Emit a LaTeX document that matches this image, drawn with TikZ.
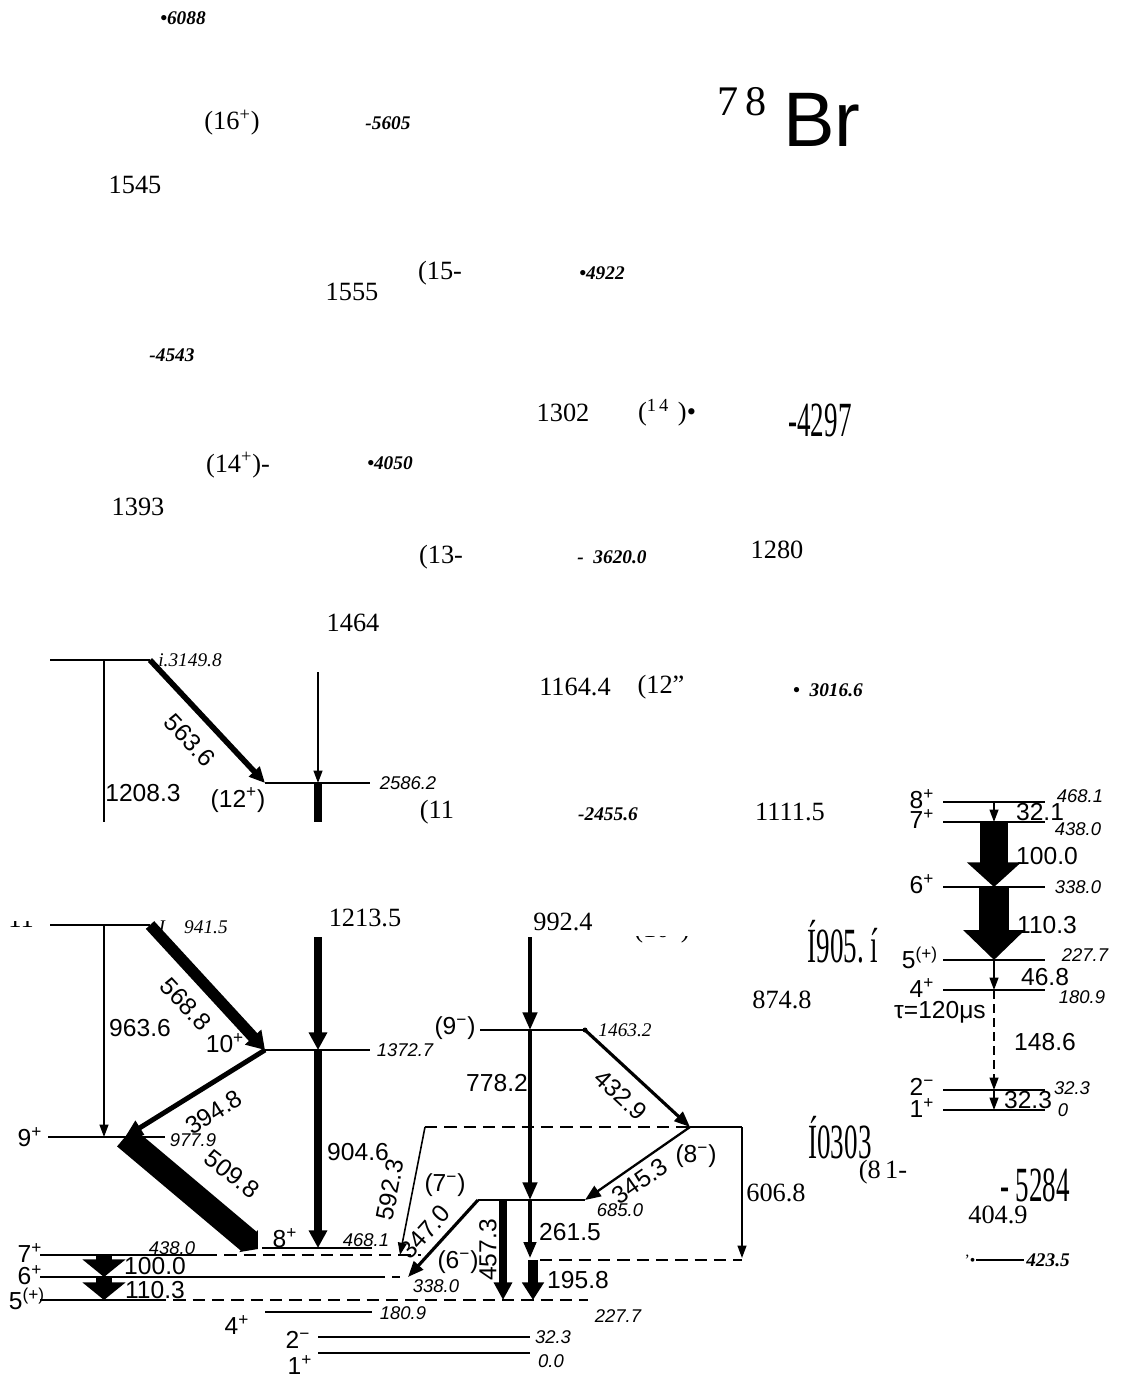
\documentclass[tikz,border=0pt]{standalone}
\usepackage{fontspec}
\setmainfont{Liberation Serif}
\setsansfont{Liberation Sans}
\usetikzlibrary{arrows.meta, positioning}

\begin{document}
\begin{tikzpicture}[x=0.02cm, y=-0.02cm, font=\sffamily,
  lvl/.style={line width=1pt},
  dlvl/.style={line width=1pt, dash pattern=on 7pt off 4pt},
  gthin/.style={line width=0.9pt, -{Triangle[length=7pt,width=5pt]}},
  gmed/.style={line width=1.8pt, -{Triangle[length=9pt,width=7pt]}},
  gfat/.style={line width=4pt, -{Triangle[length=10pt,width=10pt]}},
  glab/.style={font=\sffamily\fontsize{14}{14}\selectfont, inner sep=1pt},
  elab/.style={font=\sffamily\itshape\fontsize{10.5}{10.5}\selectfont, inner sep=1pt},
  slab/.style={font=\sffamily\fontsize{14}{14}\selectfont, inner sep=1pt},
  rlab/.style={font=\rmfamily\itshape\fontsize{11}{11}\selectfont, inner sep=1pt},
  otxt/.style={font=\rmfamily\fontsize{15}{15}\selectfont, inner sep=1pt},
  obi/.style={font=\rmfamily\bfseries\itshape\fontsize{11}{11}\selectfont, inner sep=1pt},
  squash/.style={font=\rmfamily\fontsize{28}{28}\selectfont, inner sep=0pt}]
\useasboundingbox (0,0) rectangle (1131,1379);

% Upper text fragments
\node[obi] (t6088) at (183,18) {\textbullet 6088};
\node[otxt] (t16p) at (232,123) {(16\textsuperscript{+})};
\node[obi] (t5605) at (388,123) {-5605};
\node[font=\rmfamily\fontsize{24}{24}\selectfont] (tmass) at (742,102) {7\,8};
\node[font=\sffamily\fontsize{44}{44}\selectfont] (tbr) at (822,120) {Br};
\node[otxt] (t1545) at (135,185) {1545};
\node[otxt] (t15m) at (440,273) {(15-};
\node[obi] (t4922) at (602,273) {\textbullet 4922};
\node[otxt] (t1555) at (352,292) {1555};
\node[obi] (t4543) at (172,355) {-4543};
\node[otxt] (t1302) at (563,413) {1302};
\node[otxt] (t14a) at (667,413) {(\textsuperscript{1\,4}\,\,)\textbullet};
\node[squash] (t4297) at (820,420) {\scalebox{0.55}[1]{-4297}};
\node[otxt] (t14p) at (238,465) {(14\textsuperscript{+})-};
\node[obi] (t4050) at (390,463) {\textbullet 4050};
\node[otxt] (t1393) at (138,507) {1393};
\node[otxt] (t13m) at (441,557) {(13-};
\node[obi] (t3620) at (612,557) {-\ \ 3620.0};
\node[otxt] (t1280) at (777,550) {1280};
\node[otxt] (t1464) at (353,623) {1464};
\node[otxt] (t1164) at (575,687) {1164.4};
\node[otxt] (t12q) at (661,687) {(12\symbol{34}};
\node[obi] (t3016) at (828,690) {\textbullet\ \ 3016.6};
\node[otxt] (t11o) at (437,812) {(11};
\node[obi] (t2455) at (608,814) {-2455.6};
\node[otxt] (t1111) at (790,812) {1111.5};
\node[otxt] (t1213) at (365,918) {1213.5};
\node[otxt] (t992) at (563,922) {992.4};
\node[squash] (t1905) at (843,942) {\scalebox{0.55}[1]{Í905.\ í}};
\node[otxt] (t874) at (782,1000) {874.8};
\node[squash] (t0303) at (840,1138) {\scalebox{0.55}[1]{Í0303}};
\node[otxt] (t81m) at (883,1172) {(8\,1-};
\node[squash] (t5284) at (1035,1185) {\scalebox{0.55}[1]{-\ 5284}};
\node[otxt] (t606) at (776,1193) {606.8};
\node[otxt] (t404) at (998,1215) {404.9};
\node[obi] (t423) at (1048,1260) {423.5};
\node[font=\rmfamily\fontsize{9}{9}\selectfont, inner sep=0pt] (tdot) at (970,1260) {'\textbullet};
\draw[lvl] (tdot.east) -- (t423.west);
\begin{scope}
  \clip (625,936) rectangle (700,948);
  \node[otxt] (t10f) at (662,930) {(10\textsuperscript{+})};
\end{scope}
\begin{scope}
  \clip (5,921) rectangle (40,931);
  \node[otxt] (t11f) at (21,919) {11};
\end{scope}

% High band (cut at bottom)
\draw[lvl] (50,660) coordinate (a3150) -- (150,660) coordinate (b3150);
\draw[lvl] (265,783) coordinate (a2586) -- (370,783) coordinate (b2586);
\coordinate (m3150) at (104,660);
\coordinate (cut1) at (104,822);
\coordinate (in2586) at (318,672);
\coordinate (m2586) at (318,783);
\coordinate (cut2) at (318,822);
\draw[line width=1.4pt] (m3150) -- (cut1);
\draw[line width=3.2pt, -{Triangle[length=9pt,width=8pt]}] (b3150) -- (a2586);
\draw[gthin] (in2586) -- (m2586);
\draw[line width=4.5pt] (m2586) -- (cut2);
\node[rlab] (e3150) at (190,660) {i.3149.8};
\node[elab] (e2586) at (408,783) {2586.2};
\node[slab] (s12) at (238,800) {(12\textsuperscript{+})};
\node[glab] (g1208) at (143,793) {1208.3};
\node[glab, rotate=-47] (g563) at (190,740) {563.6};

% Positive parity band
\draw[lvl] (50,925) coordinate (a941) -- (150,925) coordinate (b941);
\draw[lvl] (265,1050) coordinate (a1372) -- (370,1050) coordinate (b1372);
\draw[lvl] (48,1137) coordinate (a978) -- (165,1137) coordinate (b978);
\draw[lvl] (262,1248) coordinate (a468) -- (372,1248) coordinate (b468);
\coordinate (m941) at (104,925);
\coordinate (m978) at (104,1137);
\coordinate (t978) at (125,1137);
\coordinate (in1372) at (318,937);
\coordinate (m1372) at (318,1050);
\coordinate (m468) at (318,1248);
\coordinate (t468) at (258,1249);
\draw[gthin] (m941) -- (m978);
\draw[line width=6.5pt, -{Triangle[length=10pt,width=12pt]}] (b941) -- (a1372);
\draw[gfat] (in1372) -- (m1372);
\draw[gfat] (m1372) -- (m468);
\draw[line width=2.8pt, -{Triangle[length=10pt,width=9pt]}] (a1372) -- (t978);
\draw[line width=14pt, -{Triangle[length=7pt,width=16pt]}] (t978) -- (t468);
\node[rlab] (e941) at (192,927) {J\quad 941.5};
\node[elab] (e1372) at (405,1050) {1372.7};
\node[elab] (e978) at (193,1140) {977.9};
\node[elab] (e468) at (366,1240) {468.1};
\node[slab] (s10) at (225,1043) {10\textsuperscript{+}};
\node[slab] (s9) at (30,1137) {9\textsuperscript{+}};
\node[slab] (s8) at (285,1238) {8\textsuperscript{+}};
\node[glab] (g963) at (140,1028) {963.6};
\node[glab, rotate=-47] (g568) at (186,1004) {568.8};
\node[glab, rotate=32] (g394) at (214,1112) {394.8};
\node[glab, rotate=-38] (g509) at (232,1174) {509.8};
\node[glab] (g904) at (358,1152) {904.6};

% Negative parity band
\draw[lvl] (480,1030) coordinate (a1463) -- (585,1030) coordinate (b1463);
\fill (b1463) circle (2.5);
\draw[dlvl] (425,1127) coordinate (a1303) -- (690,1127) coordinate (b1303);
\draw[lvl] (b1303) -- (742,1127) coordinate (c1303);
\draw[lvl] (478,1200) coordinate (a685) -- (585,1200) coordinate (b685);
\draw[dlvl] (540,1260) coordinate (a423) -- (742,1260) coordinate (b423);
\coordinate (in1463) at (530,937);
\coordinate (m1463) at (530,1030);
\coordinate (m685) at (530,1200);
\coordinate (m423) at (530,1258);
\coordinate (n423) at (533,1260);
\coordinate (k685) at (503,1200);
\coordinate (e7p) at (400,1255);
\coordinate (e6p) at (408,1277);
\coordinate (k227) at (503,1300);
\coordinate (n227) at (533,1300);
\coordinate (d423) at (742,1258);
\draw[line width=2.2pt, -{Triangle[length=10pt,width=8pt]}] (in1463) -- (m1463);
\draw[line width=2.2pt, -{Triangle[length=10pt,width=8pt]}] (m1463) -- (m685);
\draw[gmed] (b1463) -- (b1303);
\draw[gthin] (a1303) -- (e7p);
\draw[line width=1.3pt, -{Triangle[length=9pt,width=7pt]}] (b1303) -- (b685);
\draw[gmed] (a685) -- (e6p);
\draw[line width=4.5pt, -{Triangle[length=10pt,width=10pt]}] (k685) -- (k227);
\draw[gmed] (m685) -- (m423);
\draw[line width=5.7pt, -{Triangle[length=10pt,width=12pt]}] (n423) -- (n227);
\draw[gthin] (c1303) -- (d423);
\node[slab] (s9m) at (455,1028) {(9\textsuperscript{−})};
\node[rlab] (e1463) at (625,1030) {1463.2};
\node[slab] (s8m) at (696,1156) {(8\textsuperscript{−})};
\node[slab] (s7m) at (445,1185) {(7\textsuperscript{−})};
\node[elab] (e685) at (620,1210) {685.0};
\node[slab] (s6m) at (458,1262) {(6\textsuperscript{−})};
\node[glab] (g778) at (497,1083) {778.2};
\node[glab, rotate=-43] (g432) at (621,1095) {432.9};
\node[glab, rotate=79] (g592) at (390,1190) {592.3};
\node[glab, rotate=35] (g345) at (640,1181) {345.3};
\node[glab, rotate=48] (g347) at (425,1232) {347.0};
\node[glab, rotate=90] (g457) at (488,1250) {457.3};
\node[glab] (g261) at (570,1232) {261.5};
\node[glab] (g195) at (578,1280) {195.8};

% Low-lying levels
\draw[lvl] (40,1255) coordinate (a438) -- (205,1255);
\draw[dlvl] (205,1255) -- (421,1255);
\draw[lvl] (40,1277) coordinate (a338) -- (373,1277);
\draw[dlvl] (373,1277) -- (400,1277);
\draw[lvl] (40,1300) coordinate (a227) -- (154,1300);
\draw[dlvl] (154,1300) -- (588,1300);
\draw[lvl] (265,1312) coordinate (a181) -- (372,1312);
\draw[lvl] (318,1337) coordinate (a32) -- (530,1337);
\draw[lvl] (318,1353) coordinate (a0) -- (530,1353);
\coordinate (m438) at (104,1255);
\coordinate (m338) at (104,1277);
\coordinate (m227) at (104,1300);
\draw[line width=9pt, -{Triangle[length=10pt,width=24pt]}] (m438) -- (m338);
\draw[line width=9pt, -{Triangle[length=10pt,width=24pt]}] (m338) -- (m227);
\node[slab] (s7) at (30,1253) {7\textsuperscript{+}};
\node[slab] (s6) at (30,1275) {6\textsuperscript{+}};
\node[slab] (s5) at (27,1299) {5\textsuperscript{(+)}};
\node[slab] (s4) at (237,1325) {4\textsuperscript{+}};
\node[slab] (s2) at (298,1340) {2\textsuperscript{−}};
\node[slab] (s1) at (300,1365) {1\textsuperscript{+}};
\node[elab] (e438) at (172,1248) {438.0};
\node[elab] (e338) at (436,1286) {338.0};
\node[elab] (e227) at (618,1316) {227.7};
\node[elab] (e181) at (403,1313) {180.9};
\node[elab] (e32) at (553,1337) {32.3};
\node[elab] (e0) at (551,1361) {0.0};
\node[glab] (g100) at (155,1266) {100.0};
\node[glab] (g110) at (155,1290) {110.3};

% Isomer inset
\foreach \yy/\nm in {802/r468, 822/r438, 887/r338, 960/r227, 990/r181, 1090/r32, 1110/r0}
  \draw[lvl] (943,\yy) -- (1045,\yy) coordinate[pos=0.5] (\nm);
\draw[gthin] (r468) -- (r438);
\draw[line width=16pt, -{Triangle[length=14pt,width=30pt]}] (r438) -- (r338);
\draw[line width=17pt, -{Triangle[length=17pt,width=34pt]}] (r338) -- (r227);
\draw[gthin] (r227) -- (r181);
\draw[gthin, dash pattern=on 5pt off 3pt] (r181) -- (r32);
\draw[gthin] (r32) -- (r0);
\node[slab] (q8) at (922,799) {8\textsuperscript{+}};
\node[slab] (q7) at (922,819) {7\textsuperscript{+}};
\node[slab] (q6) at (922,884) {6\textsuperscript{+}};
\node[slab] (q5) at (920,958) {5\textsuperscript{(+)}};
\node[slab] (q4) at (922,988) {4\textsuperscript{+}};
\node[slab] (q2) at (922,1087) {2\textsuperscript{−}};
\node[slab] (q1) at (922,1108) {1\textsuperscript{+}};
\node[elab] (f468) at (1080,796) {468.1};
\node[elab] (f438) at (1078,829) {438.0};
\node[elab] (f338) at (1078,887) {338.0};
\node[elab] (f227) at (1085,955) {227.7};
\node[elab] (f181) at (1082,997) {180.9};
\node[elab] (f32) at (1072,1088) {32.3};
\node[elab] (f0) at (1063,1110) {0};
\node[glab] (h32a) at (1040,812) {32.1};
\node[glab] (h100) at (1047,856) {100.0};
\node[glab] (h110) at (1047,925) {110.3};
\node[glab] (h46) at (1045,977) {46.8};
\node[glab] (htau) at (940,1012) {τ=120μs};
\node[glab] (h148) at (1045,1042) {148.6};
\node[glab] (h32b) at (1028,1100) {32.3};
\end{tikzpicture}
\end{document}
